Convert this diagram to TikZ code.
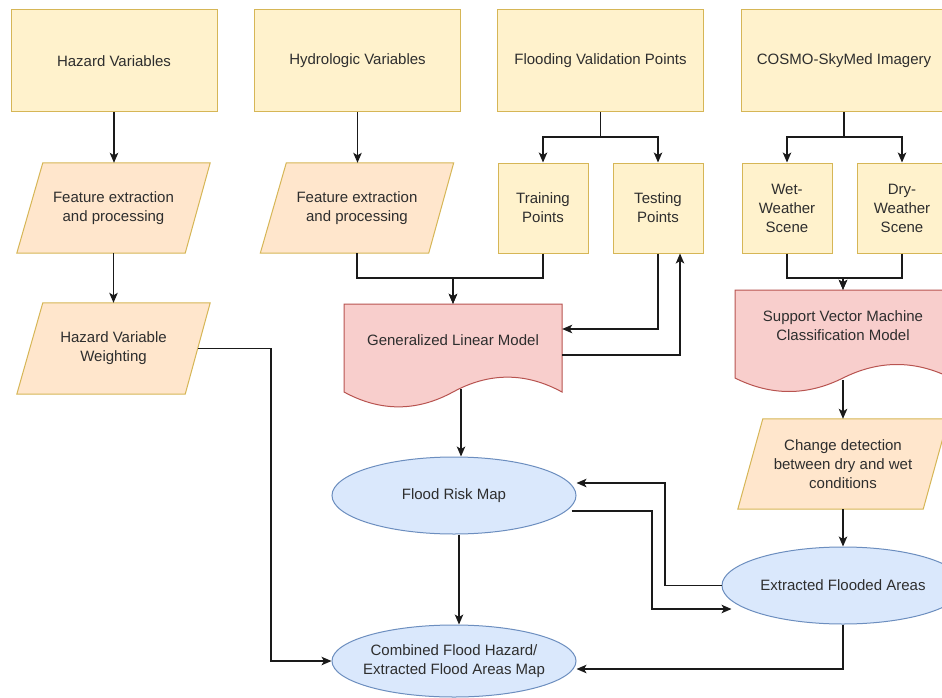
\documentclass[tikz,border=0pt]{standalone}
\usepackage{fontspec}
\setmainfont{Liberation Sans}
\usetikzlibrary{arrows.meta,backgrounds,shapes.geometric}
\definecolor{ylfill}{HTML}{FFF2CC}
\definecolor{yldraw}{HTML}{D6B656}
\definecolor{orfill}{HTML}{FFE6CC}
\definecolor{ordraw}{HTML}{D6B656}
\definecolor{pkfill}{HTML}{F8CECC}
\definecolor{pkdraw}{HTML}{B85450}
\definecolor{blfill}{HTML}{DAE8FC}
\definecolor{bldraw}{HTML}{6C8EBF}
\definecolor{txtc}{HTML}{2E2E2E}
\definecolor{lnc}{HTML}{1A1A1A}
\begin{document}
\begin{tikzpicture}[x=1pt,y=-1pt,
  every node/.style={font=\fontsize{15}{19}\selectfont, text=txtc, align=center, inner sep=0pt},
  ybox/.style={rectangle, draw=yldraw, fill=ylfill, line width=1pt},
  plain/.style={rectangle},
  ell/.style={ellipse, draw=bldraw, fill=blfill, line width=1pt},
  pshape/.style={draw=ordraw, fill=orfill, line width=1pt},
  dshape/.style={draw=pkdraw, fill=pkfill, line width=1pt},
  arr/.style={draw=lnc, line width=1.2pt, -{Stealth[length=10pt,width=8.5pt,inset=2.5pt]}}
]
\useasboundingbox (0,0) rectangle (942,698);
\begin{scope}
\clip (0,0) rectangle (942,698);
% top row
\node[ybox, minimum width=206pt, minimum height=102pt] (hv) at (114,61) {Hazard Variables};
\node[ybox, minimum width=206pt, minimum height=102pt] (hyd) at (357.5,61) {Hydrologic Variables};
\node[ybox, minimum width=206pt, minimum height=102pt] (fvp) at (600.5,61) {Flooding Validation Points};
\node[ybox, minimum width=206pt, minimum height=102pt] (cosmo) at (844,61) {COSMO-SkyMed Imagery};
% second row
\node[plain, minimum width=193pt, minimum height=90pt] (fe1) at (113.5,208) {Feature extraction\\and processing};
\node[plain, minimum width=193pt, minimum height=90pt] (fe2) at (357,208) {Feature extraction\\and processing};
\node[ybox, minimum width=90pt, minimum height=90pt] (tr) at (543,208) {Training\\Points};
\node[ybox, minimum width=90pt, minimum height=90pt] (te) at (658,208) {Testing\\Points};
\node[ybox, minimum width=90pt, minimum height=90pt] (wet) at (787,208) {Wet-\\Weather\\Scene};
\node[ybox, minimum width=90pt, minimum height=90pt] (dry) at (902,208) {Dry-\\Weather\\Scene};
% third row
\node[plain, minimum width=193pt, minimum height=91pt] (hw) at (113.5,348.5) {Hazard Variable\\Weighting};
\node[plain, minimum width=218pt, minimum height=72pt] (glm) at (453,340) {Generalized Linear Model};
\node[plain, minimum width=216pt, minimum height=72pt] (svm) at (843,326) {Support Vector Machine\\Classification Model};
\node[plain, minimum width=210pt, minimum height=90pt] (chg) at (843,464) {Change detection\\between dry and wet\\conditions};
% ellipses
\node[ell, minimum width=244pt, minimum height=77pt] (fr) at (454,495.5) {Flood Risk Map};
\node[ell, minimum width=242pt, minimum height=77pt] (ext) at (843,585.5) {Extracted Flooded Areas};
\node[ell, inner xsep=-5pt, minimum width=244pt, minimum height=72pt] (comb) at (454,661) {Combined Flood Hazard/\\Extracted Flood Areas Map};
\coordinate (glmb) at (461,389);
\coordinate (frR) at ([xshift=-5pt]fr.east);
\coordinate (extL) at ([xshift=10pt]ext.west);
% connectors
\draw[arr] (hv.south) -- (hv.south |- fe1.north);
\draw[arr] (hyd.south) -- (hyd.south |- fe2.north);
\draw[arr] (fvp.south) -- (fvp.south |- 0,137) -| (tr.north);
\draw[arr] (fvp.south |- 0,137) -| (te.north);
\draw[arr] (cosmo.south) -- (cosmo.south |- 0,137) -| (wet.north);
\draw[arr] (cosmo.south |- 0,137) -| (dry.north);
\draw[arr] (fe1.south) -- (fe1.south |- hw.north);
\draw[arr] (fe2.south) |- (glm.north |- 0,278) -- (glm.north);
\draw[arr] (tr.south) |- (glm.north |- 0,278) -- (glm.north);
\draw[arr] (te.south) |- (glm.east |- 0,329);
\draw[arr] (glm.east |- 0,355) -| (te.south -| 680,0);
\draw[arr] (wet.south) |- (svm.north |- 0,278) -- (svm.north);
\draw[arr] (dry.south) |- (svm.north |- 0,278) -- (svm.north);
\draw[arr] (svm.south |- 0,380) -- (chg.north);
\draw[arr] (chg.south) -- (ext.north);
\draw[arr] (glmb) -- (glmb |- fr.north);
\draw[arr] (fr.south -| 459,0) -- (comb.north -| 459,0);
\draw[arr] ([xshift=-12pt]hw.east) -| (comb.west -| 271,0) -- (comb.west);
\draw[arr] (ext.west) -- (ext.west -| 665,0) -- (665,483) -- (fr.east |- 0,483);
\draw[arr] (frR |- 0,511) -- (652,511) -- (652,609) -- (extL |- 0,609);
\draw[arr] (ext.south) |- (comb.east |- 0,669);
\end{scope}
\begin{scope}[on background layer]
\clip (0,0) rectangle (942,698);
\fill[white] (0,0) rectangle (942,698);
\path[pshape] ([xshift=26pt]fe1.north west) -- (fe1.north east) -- ([xshift=-25pt]fe1.south east) -- (fe1.south west) -- cycle;
\path[pshape] ([xshift=26pt]fe2.north west) -- (fe2.north east) -- ([xshift=-25pt]fe2.south east) -- (fe2.south west) -- cycle;
\path[pshape] ([xshift=26pt]hw.north west) -- (hw.north east) -- ([xshift=-25pt]hw.south east) -- (hw.south west) -- cycle;
\path[pshape] ([xshift=25pt]chg.north west) -- (chg.north east) -- ([xshift=-25pt]chg.south east) -- (chg.south west) -- cycle;
\path[dshape] (344,304) -- (562,304) -- (562,392) .. controls (525.67,372.2) and (489.33,372.2) .. (453,392) .. controls (416.67,411.8) and (380.33,411.8) .. (344,392) -- cycle;
\path[dshape] (735,290) -- (951,290) -- (951,378) .. controls (915,360) and (879,360) .. (843,378) .. controls (807,396) and (771,396) .. (735,378) -- cycle;
\end{scope}
\end{tikzpicture}
\end{document}
